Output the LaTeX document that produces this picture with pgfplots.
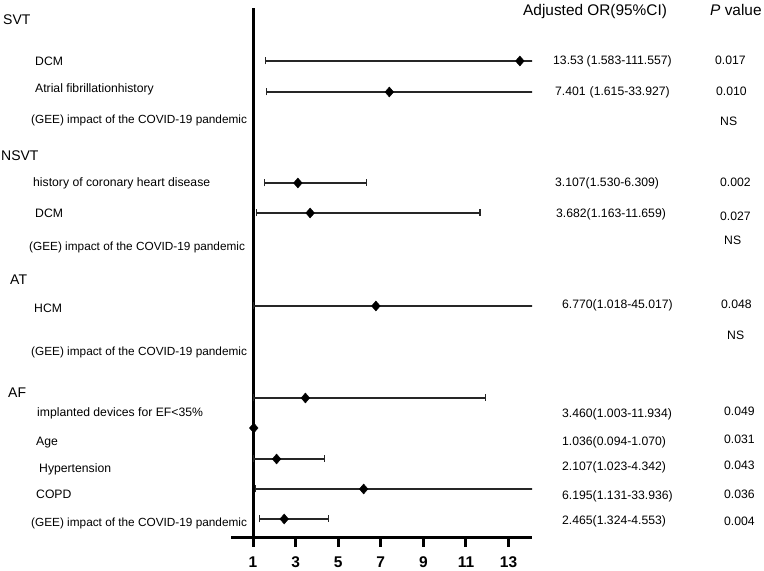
\documentclass[border=0pt]{standalone}
\usepackage{fontspec}
\setmainfont{Liberation Sans}
\usepackage{pgfplots}
\usepackage{pgfplotstable}
\pgfplotsset{compat=1.18}
\newcommand{\fl}{\fontsize{12.2bp}{14bp}\selectfont}
\newcommand{\fs}{\fontsize{11.8bp}{14bp}\selectfont}
\newcommand{\fg}{\fontsize{14bp}{16bp}\selectfont}
\newcommand{\fh}{\fontsize{15.4bp}{18bp}\selectfont}
\newcommand{\T}[4]{\node[anchor=base west, inner sep=0pt, font=#4] at (#1,{571-#2}) {#3};}
\newcommand{\gee}{(GEE) impact of the COVID-19 pandemic}

\pgfplotstableread{
y or lo hi
-61 13.53 1.583 111.557
-92 7.401 1.615 33.927
-183 3.107 1.530 6.309
-213 3.682 1.163 11.659
-306 6.770 1.018 45.017
-398 3.460 1.003 11.934
-428 1.036 0.094 1.070
-459 2.107 1.023 4.342
-489 6.195 1.131 33.936
-519 2.465 1.324 4.553
}\data

\begin{document}
\begin{tikzpicture}[x=1bp,y=1bp]
\useasboundingbox (0,0) rectangle (764,571);
\begin{axis}[
  at={(253bp,33bp)}, anchor=south west,
  scale only axis, width=279bp, height=530bp,
  xmin=1, xmax=14.1, ymin=-538, ymax=-8,
  axis x line=bottom, axis y line=left,
  axis line style={line width=3bp, -},
  ytick=\empty,
  xtick={1,3,5,7,9,11,13},
  tick align=outside,
  major tick length=9bp,
  every tick/.style={black, line width=3bp},
  /pgf/number format/assume math mode=true,
  xticklabel style={font=\fontsize{15.5bp}{18bp}\selectfont\bfseries, yshift=-6bp},
]
\addplot+[only marks, black, mark=diamond*, mark size=5bp,
  mark options={fill=black, xscale=1.15},
  error bars/.cd, x dir=both, x explicit,
  error bar style={line width=1.1bp, black!85},
  error mark options={rotate=90, mark size=3.5bp, line width=1.1bp, black!85}]
  table[x=or, y=y, x error plus expr=\thisrow{hi}-\thisrow{or},
        x error minus expr=\thisrow{or}-\thisrow{lo}] {\data};
\end{axis}
\draw[line width=3bp] (231,33) -- (254,33);
% headers
\T{523}{15.5}{Adjusted OR(95\%CI)}{\fh}
\T{710}{15.5}{\textit{P} value}{\fh}
% left labels
\T{3}{25}{SVT}{\fg}
\T{35}{66}{DCM}{\fl}
\T{35}{93}{Atrial fibrillationhistory}{\fl}
\T{31}{124}{\gee}{\fs}
\T{1}{161}{NSVT}{\fg}
\T{33}{187}{history of coronary heart disease}{\fl}
\T{35}{218}{DCM}{\fl}
\T{29}{251}{\gee}{\fs}
\T{10}{285}{AT}{\fg}
\T{34}{313}{HCM}{\fl}
\T{31}{356}{\gee}{\fs}
\T{8}{398}{AF}{\fg}
\T{37}{417}{implanted devices for EF<35\%}{\fl}
\T{36}{446}{Age}{\fl}
\T{39}{473}{Hypertension}{\fl}
\T{36}{499}{COPD}{\fl}
\T{31}{527}{\gee}{\fs}
% OR column
\T{553}{65}{13.53\hspace{3bp}(1.583-111.557)}{\fl}
\T{555}{96}{7.401\hspace{4bp}(1.615-33.927)}{\fl}
\T{555}{187}{3.107(1.530-6.309)}{\fl}
\T{556}{218}{3.682(1.163-11.659)}{\fl}
\T{562}{309}{6.770(1.018-45.017)}{\fl}
\T{562}{418}{3.460(1.003-11.934)}{\fl}
\T{562}{446}{1.036(0.094-1.070)}{\fl}
\T{562}{471}{2.107(1.023-4.342)}{\fl}
\T{562}{500}{6.195(1.131-33.936)}{\fl}
\T{562}{525}{2.465(1.324-4.553)}{\fl}
% P column
\T{715}{65}{0.017}{\fl}
\T{716}{96}{0.010}{\fl}
\T{720}{126}{NS}{\fl}
\T{720}{187}{0.002}{\fl}
\T{720}{221}{0.027}{\fl}
\T{724}{245}{NS}{\fl}
\T{721}{309}{0.048}{\fl}
\T{727}{340}{NS}{\fl}
\T{724}{416}{0.049}{\fl}
\T{724}{444}{0.031}{\fl}
\T{724}{470}{0.043}{\fl}
\T{724}{499}{0.036}{\fl}
\T{724}{526}{0.004}{\fl}
\end{tikzpicture}
\end{document}
